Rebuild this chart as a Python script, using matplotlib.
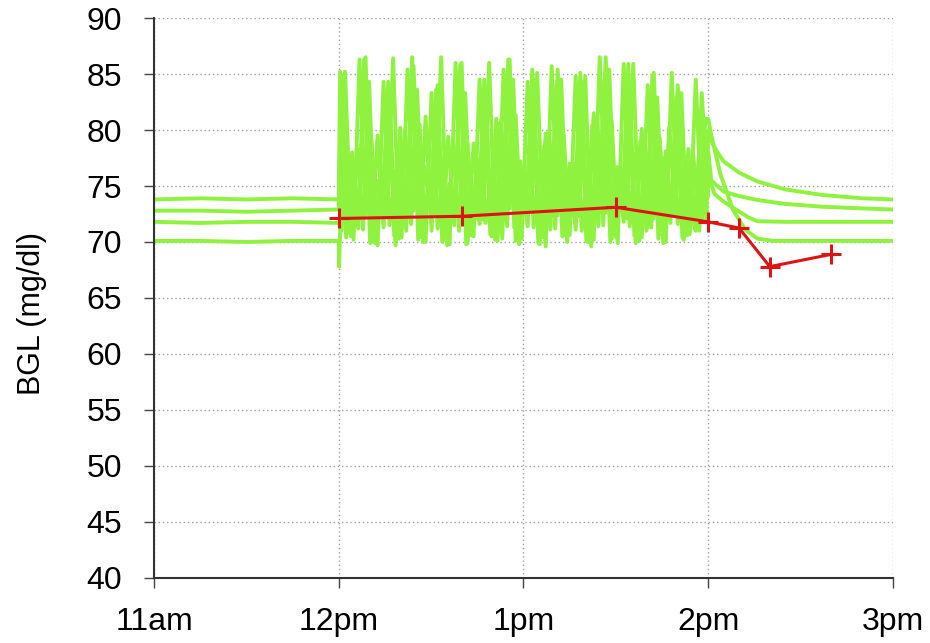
import matplotlib
matplotlib.use('Agg')
import matplotlib.pyplot as plt
import numpy as np

# x = minutos desde las 11am
tick_pos = [0, 60, 120, 180, 240]
tick_lbl = ['11am', '12pm', '1pm', '2pm', '3pm']

# tramo previo (11am-12pm), cuatro simulaciones
pre_t = [0, 15, 30, 45, 60]
pre_a = [73.8, 73.9, 73.8, 73.9, 73.8]
pre_b = [72.8, 72.8, 72.7, 72.8, 72.9]
pre_c = [71.8, 71.7, 71.8, 71.8, 71.7]
pre_d = [70.1, 70.1, 70.0, 70.1, 70.1]

# tramo oscilante (12pm-2pm), un valor cada 1.95 min
osc_step = 1.95
osc_off = {'a': 60.45, 'b': 60.9, 'c': 60.9, 'd': 60.1}
osc_a = [85.2, 70.4, 78.0, 71.2, 86.3, 69.9, 75.5, 72.4, 84.3, 70.6, 80.2, 71.0,
         86.5, 70.2, 76.8, 73.0, 83.6, 70.0, 79.4, 71.5, 85.8, 69.8, 74.6, 72.0,
         84.5, 70.7, 81.0, 70.3, 86.3, 71.3, 77.2, 72.6, 85.4, 69.9, 78.6, 71.1,
         84.0, 70.5, 76.0, 72.2, 85.1, 70.1, 80.4, 71.4, 84.5, 70.0, 75.8, 72.8,
         85.9, 70.6, 79.0, 71.0, 84.8, 70.3, 77.5, 71.7, 82.9, 70.4, 78.3, 71.2,
         80.0, 72.0]
osc_b = [84.9, 70.8, 76.5, 72.1, 86.5, 70.0, 79.5, 71.3, 83.3, 69.7, 77.8, 72.5,
         85.7, 70.4, 81.2, 71.0, 84.0, 70.2, 75.2, 73.2, 86.0, 69.9, 78.8, 71.6,
         83.9, 70.5, 80.6, 72.0, 86.3, 70.1, 76.2, 71.4, 84.5, 69.8, 79.7, 72.3,
         85.4, 70.6, 77.0, 71.1, 84.3, 70.0, 81.5, 72.7, 86.5, 70.3, 76.7, 71.8,
         83.6, 69.9, 80.1, 71.3, 85.1, 70.7, 78.1, 72.4, 84.0, 70.2, 77.3, 71.0,
         83.3, 74.0]
osc_c = [71.0, 77.6, 70.2, 86.3, 72.3, 79.0, 69.7, 84.3, 71.5, 76.4, 70.4, 85.4,
         72.8, 80.5, 70.0, 83.3, 71.2, 77.5, 69.8, 86.0, 72.0, 78.8, 70.5, 84.5,
         71.7, 75.9, 70.1, 85.4, 73.0, 81.3, 70.3, 84.3, 71.3, 77.3, 69.6, 85.7,
         72.4, 79.6, 70.6, 84.8, 71.0, 76.6, 70.2, 86.5, 72.6, 80.8, 69.9, 85.9,
         71.4, 77.9, 70.4, 84.0, 72.1, 79.3, 70.0, 85.1, 71.6, 76.3, 70.7, 84.5,
         72.0, 76.0]
osc_d = [67.8, 85.2, 70.5, 78.3, 71.1, 84.3, 69.9, 76.9, 72.2, 86.4, 70.3, 80.0,
         71.6, 83.6, 70.0, 76.2, 72.5, 86.5, 69.7, 79.1, 71.0, 83.3, 70.6, 77.4,
         72.0, 86.0, 70.2, 80.9, 71.4, 84.5, 69.8, 75.6, 72.7, 85.1, 70.4, 79.8,
         71.2, 84.5, 70.0, 77.0, 72.3, 84.8, 69.6, 81.0, 71.5, 85.4, 70.5, 76.4,
         72.1, 85.9, 70.1, 78.7, 71.3, 82.9, 69.9, 80.3, 72.4, 83.3, 70.6, 77.8,
         71.0, 81.0]

# tramo posterior (2pm-3pm), recuperación
post_a_t = [180, 181, 183, 185, 190, 196, 205, 217, 230, 240]
post_a = [80.0, 79.0, 78.0, 77.2, 76.2, 75.4, 74.7, 74.2, 73.9, 73.8]
post_b_t = [180, 181, 185, 190, 196, 205, 217, 230, 240]
post_b = [78.0, 75.5, 74.5, 74.1, 73.75, 73.4, 73.15, 73.0, 72.9]
post_c_t = [180, 182, 185, 189, 193, 196, 205, 220, 240]
post_c = [76.0, 74.3, 73.6, 72.9, 72.2, 71.85, 71.8, 71.8, 71.8]
post_d_t = [180, 181, 184, 188, 192, 196, 201, 220, 240]
post_d = [81.0, 79.5, 76.0, 72.9, 71.1, 70.3, 70.1, 70.1, 70.1]

# mediciones
med_t = [60, 100, 150, 180, 190, 200, 220]
med_v = [72.1, 72.3, 73.1, 71.8, 71.25, 67.8, 68.9]

plt.rcParams['font.family'] = ['Liberation Sans', 'DejaVu Sans']

fig = plt.figure(figsize=(9.3, 6.43), dpi=100)
ax = fig.add_axes([0.1656, 0.1011, 0.7946, 0.8709])

verde = '#8ef23e'
series = [('a', pre_a, osc_a, post_a_t, post_a),
          ('b', pre_b, osc_b, post_b_t, post_b),
          ('c', pre_c, osc_c, post_c_t, post_c),
          ('d', pre_d, osc_d, post_d_t, post_d)]
for k, pre, osc, pt, pv in series:
    ot = osc_off[k] + osc_step * np.arange(len(osc))
    t = np.concatenate([pre_t, ot, pt])
    v = np.concatenate([pre, osc, pv])
    ax.plot(t, v, color=verde, linewidth=2.8, zorder=2)

ax.plot(med_t, med_v, color='#dc1414', linewidth=2.2, marker='+',
        markersize=14, markeredgewidth=2.2, zorder=3)

ax.set_xlim(0, 240)
ax.set_ylim(40, 90)
ax.set_xticks(tick_pos)
ax.set_xticklabels(tick_lbl)
ax.set_yticks(range(40, 91, 5))
ax.tick_params(axis='both', direction='out', length=7, width=1, color='#444444',
               labelsize=23)
ax.tick_params(axis='x', pad=14)
ax.tick_params(axis='y', pad=16)
ax.set_ylabel('BGL (mg/dl)', fontsize=22)
ax.yaxis.set_label_coords(-0.145, 0.473)
ax.grid(True, color='#a0a0a0', linestyle=(0, (1, 2)), linewidth=1.0, zorder=0)
ax.spines['top'].set_visible(False)
ax.spines['right'].set_visible(False)
ax.spines['left'].set_color('#333333')
ax.spines['bottom'].set_color('#333333')
ax.spines['left'].set_linewidth(1.5)
ax.spines['bottom'].set_linewidth(1.5)
ax.set_axisbelow(True)

fig.savefig('out.png', dpi=100)
